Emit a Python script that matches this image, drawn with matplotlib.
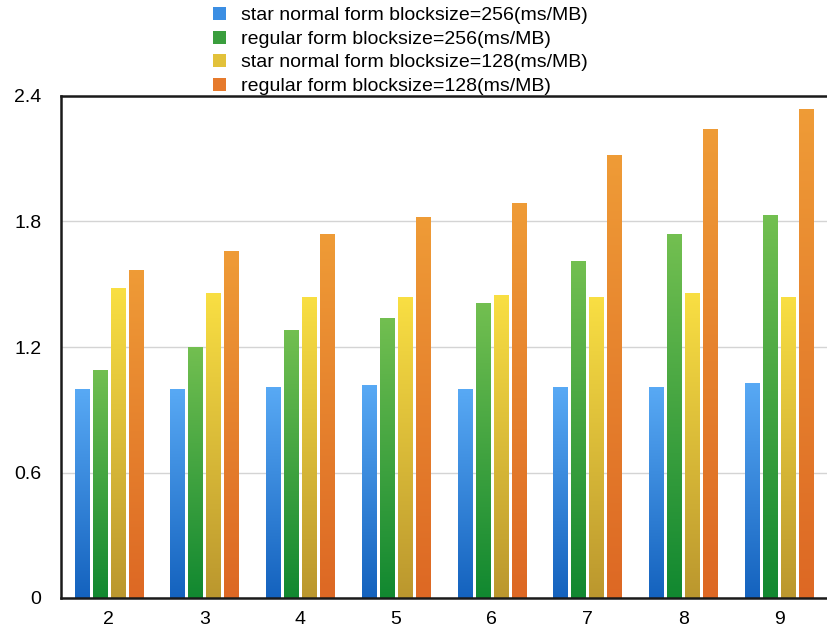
import matplotlib
matplotlib.use("Agg")
import matplotlib.pyplot as plt
import numpy as np
from matplotlib.colors import LinearSegmentedColormap
from matplotlib.patches import Patch

plt.rcParams['font.family'] = ['Liberation Sans', 'DejaVu Sans']

# block counts on the x axis
groups = [2, 3, 4, 5, 6, 7, 8, 9]

labels = [
    "star normal form blocksize=256(ms/MB)",
    "regular form blocksize=256(ms/MB)",
    "star normal form blocksize=128(ms/MB)",
    "regular form blocksize=128(ms/MB)",
]

star_256 = [1.00, 1.00, 1.01, 1.02, 1.00, 1.01, 1.01, 1.03]
regular_256 = [1.09, 1.20, 1.28, 1.34, 1.41, 1.61, 1.74, 1.83]
star_128 = [1.48, 1.46, 1.44, 1.44, 1.45, 1.44, 1.46, 1.44]
regular_128 = [1.57, 1.66, 1.74, 1.82, 1.89, 2.12, 2.24, 2.34]

series = [star_256, regular_256, star_128, regular_128]

# (top colour, bottom colour) for each series gradient
grad_colors = [
    ("#5aabf6", "#1462be"),
    ("#74c051", "#118830"),
    ("#fae043", "#bb972e"),
    ("#ef9c37", "#dd6824"),
]
legend_colors = ["#3b8ee3", "#3a9e3d", "#e2c13a", "#e67a2c"]

yticks = [0, 0.6, 1.2, 1.8, 2.4]
ytick_labels = ["0", "0.6", "1.2", "1.8", "2.4"]

fig = plt.figure(figsize=(8.27, 6.28), dpi=100)
ax = fig.add_axes([61 / 827, 30 / 628, 766 / 827, 502 / 628])

step = 0.188
width = 0.152
x = np.arange(len(groups))
grad = np.linspace(0, 1, 256).reshape(-1, 1)

for i, vals in enumerate(series):
    cmap = LinearSegmentedColormap.from_list("g%d" % i, [grad_colors[i][1], grad_colors[i][0]])
    offs = (i - 1.5) * step
    bars = ax.bar(x + offs, vals, width=width, color="none", edgecolor="none", zorder=3)
    for b in bars:
        x0 = b.get_x()
        h = b.get_height()
        im = ax.imshow(grad, extent=[x0 - 0.01, x0 + width + 0.01, 0, h + 0.02],
                       origin="lower", cmap=cmap, aspect="auto", zorder=2,
                       interpolation="bilinear")
        im.set_clip_path(b)

ax.set_xlim(-0.5, len(groups) - 0.5)
ax.set_ylim(0, 2.4)
ax.set_xticks(x)
ax.set_xticklabels([str(g) for g in groups], fontsize=14)
ax.set_yticks(yticks)
ax.set_yticklabels(ytick_labels, fontsize=14)
ax.tick_params(length=0)
ax.tick_params(axis="y", pad=14)
ax.tick_params(axis="x", pad=9)
ax.yaxis.grid(True, color="#d4d4d4", linewidth=1, zorder=0)
ax.set_axisbelow(True)

for side in ["left", "bottom", "top"]:
    ax.spines[side].set_linewidth(1.8)
    ax.spines[side].set_color("#1a1a1a")
ax.spines["right"].set_visible(False)

handles = [Patch(facecolor=c, edgecolor="none") for c in legend_colors]
fig.legend(handles, labels, loc="upper left", bbox_to_anchor=(213 / 827, 1.0 - 7 / 628),
           frameon=False, fontsize=14, handlelength=0.65, handleheight=0.65,
           handletextpad=0.8, labelspacing=0.32, borderaxespad=0, borderpad=0)

fig.savefig("out.png", dpi=100)
